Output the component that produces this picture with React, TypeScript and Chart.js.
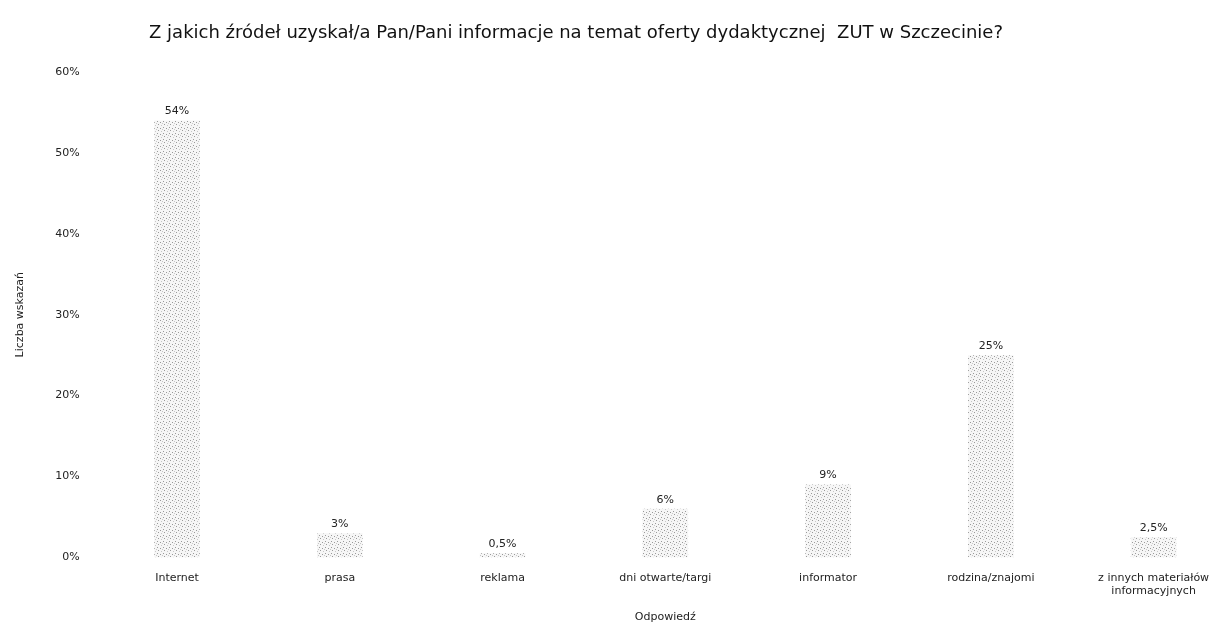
import React, { useEffect, useRef } from "react";
import { Chart, registerables } from "chart.js";

Chart.register(...registerables);

const titleText =
  "Z jakich źródeł uzyskał/a Pan/Pani informacje na temat oferty dydaktycznej  ZUT w Szczecinie?";
const categories: (string | string[])[] = [
  "Internet",
  "prasa",
  "reklama",
  "dni otwarte/targi",
  "informator",
  "rodzina/znajomi",
  ["z innych materiałów", "informacyjnych"],
];
const values: number[] = [54, 3, 0.5, 6, 9, 25, 2.5];
const valueLabels: string[] = ["54%", "3%", "0,5%", "6%", "9%", "25%", "2,5%"];
const yTicks: number[] = [0, 10, 20, 30, 40, 50, 60];

const FONT = "'DejaVu Sans', 'Open Sans', sans-serif";

function makePattern(): CanvasPattern | string {
  const c = document.createElement("canvas");
  c.width = 6;
  c.height = 6;
  const g = c.getContext("2d");
  if (!g) return "#ddd";
  g.fillStyle = "#f6f6f6";
  g.fillRect(0, 0, 6, 6);
  g.fillStyle = "#9a9a9a";
  g.fillRect(1, 1, 1, 1);
  g.fillRect(4, 2, 1, 1);
  g.fillRect(2, 4, 1, 1);
  g.fillStyle = "#c8c8c8";
  g.fillRect(5, 5, 1, 1);
  g.fillRect(0, 3, 1, 1);
  const p = g.createPattern(c, "repeat");
  return p || "#ddd";
}

const labelPlugin = {
  id: "valueLabels",
  afterDatasetsDraw(chart: any) {
    const ctx = chart.ctx;
    const meta = chart.getDatasetMeta(0);
    ctx.save();
    ctx.font = `11px ${FONT}`;
    ctx.fillStyle = "#222";
    ctx.textAlign = "center";
    ctx.textBaseline = "middle";
    meta.data.forEach((bar: any, i: number) => {
      ctx.fillText(valueLabels[i], bar.x, bar.y - 9);
    });
    ctx.restore();
  },
};

const titlePlugin = {
  id: "offsetTitle",
  afterDraw(chart: any) {
    const ctx = chart.ctx;
    ctx.save();
    ctx.font = `18px ${FONT}`;
    ctx.fillStyle = "#111";
    ctx.textAlign = "center";
    ctx.textBaseline = "middle";
    ctx.fillText(titleText, 576, 33);
    ctx.restore();
  },
};

export default function App() {
  const ref = useRef<HTMLCanvasElement | null>(null);
  useEffect(() => {
    document.body.style.margin = "0";
    if (!ref.current) return;
    const chart = new Chart(ref.current, {
      type: "bar",
      data: {
        labels: categories,
        datasets: [
          {
            data: values,
            backgroundColor: makePattern() as any,
            borderWidth: 0,
            barPercentage: 0.28,
            categoryPercentage: 1,
          },
        ],
      },
      options: {
        animation: false,
        responsive: false,
        layout: { padding: { left: 14, right: 3, top: 72, bottom: 1 } },
        plugins: {
          legend: { display: false },
          tooltip: { enabled: false },
          title: { display: false },
        },
        scales: {
          x: {
            grid: { display: false },
            border: { display: false },
            ticks: {
              color: "#222",
              font: { family: FONT, size: 11 },
              padding: 6,
              maxRotation: 0,
            },
            title: {
              display: true,
              text: "Odpowiedź",
              color: "#222",
              font: { family: FONT, size: 11 },
              padding: { top: 7, bottom: 0 },
            },
          },
          y: {
            min: 0,
            max: 60,
            afterBuildTicks: (axis: any) => {
              axis.ticks = yTicks.map((v) => ({ value: v }));
            },
            grid: { display: false },
            border: { display: false },
            ticks: {
              color: "#222",
              font: { family: FONT, size: 11 },
              padding: 8,
              callback: (v: any) => `${v}%`,
            },
            title: {
              display: true,
              text: "Liczba wskazań",
              color: "#222",
              font: { family: FONT, size: 11 },
              padding: { top: 0, bottom: 20 },
            },
          },
        },
      },
      plugins: [labelPlugin, titlePlugin],
    });
    return () => chart.destroy();
  }, []);
  return (
    <div style={{ width: 1211, height: 625, overflow: "hidden" }}>
      <canvas ref={ref} width={1238} height={625} style={{ display: "block" }} />
    </div>
  );
}
